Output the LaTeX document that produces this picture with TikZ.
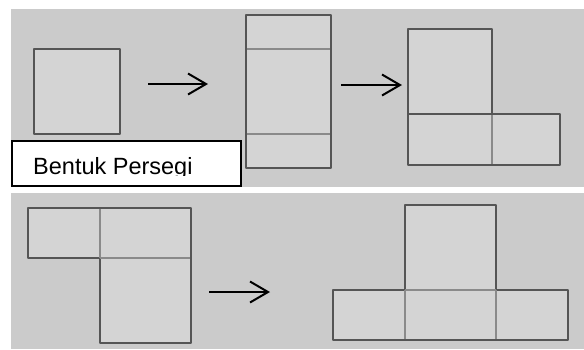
\documentclass[tikz,border=0pt]{standalone}
\usepackage{fontspec}
\setmainfont{Liberation Sans}
\usetikzlibrary{arrows.meta}
\definecolor{panelgray}{HTML}{CBCBCB}
\definecolor{shapefill}{HTML}{D4D4D4}
\definecolor{edgegray}{HTML}{555555}
\definecolor{divgray}{HTML}{8A8A8A}
\tikzset{
  panel/.style={fill=panelgray, draw=none},
  shapeout/.style={fill=shapefill, draw=edgegray, line width=1.8pt, line join=round},
  divline/.style={draw=divgray, line width=1.4pt},
  flow/.style={draw=black, line width=2pt, -{Straight Barb[length=18pt,width=21pt]}},
  labelbox/.style={fill=white, draw=black, line width=1.6pt}
}
\begin{document}
\begin{tikzpicture}[x=1pt,y=-1pt]
\useasboundingbox (0,0) rectangle (584,349);
\fill[white] (0,0) rectangle (584,349);
% panels
\path[panel] (11,9) rectangle (584,187);
\path[panel] (11,193) rectangle (584,349);
% square
\path[shapeout] (34,49) rectangle (120,134);
% label
\path[labelbox] (12,141) rectangle (241,186);
\begin{scope}
\clip (12,141) rectangle (241,175.5);
\node[anchor=base west, inner sep=0pt, font=\fontsize{23.5pt}{26pt}\selectfont] (lbl) at (33,174) {Bentuk Persegi};
\end{scope}
% tall rectangle
\path[shapeout] (246,15) rectangle (331,168);
\draw[divline] (247,49) -- (330,49);
\draw[divline] (247,134) -- (330,134);
% L shape
\path[shapeout] (408,29) -- (492,29) -- (492,114) -- (560,114) -- (560,165) -- (408,165) -- cycle;
\draw[edgegray, line width=1.5pt] (409,114) -- (492,114);
\draw[divline] (492,115) -- (492,164);
% bottom-left shape
\path[shapeout] (28,208) -- (191,208) -- (191,343) -- (100,343) -- (100,258) -- (28,258) -- cycle;
\draw[divline] (100,209) -- (100,258);
\draw[divline] (100,258) -- (190,258);
% T shape
\path[shapeout] (405,205) -- (496,205) -- (496,290) -- (568,290) -- (568,340) -- (333,340) -- (333,290) -- (405,290) -- cycle;
\draw[divline] (405,290) -- (496,290);
\draw[divline] (405,290) -- (405,339);
\draw[divline] (496,290) -- (496,339);
% arrows
\coordinate (a1s) at (148,84); \coordinate (a1e) at (208,84);
\coordinate (a2s) at (341,85); \coordinate (a2e) at (402,85);
\coordinate (a3s) at (209,292); \coordinate (a3e) at (270,292);
\draw[flow] (a1s) -- (a1e);
\draw[flow] (a2s) -- (a2e);
\draw[flow] (a3s) -- (a3e);
\end{tikzpicture}
\end{document}
